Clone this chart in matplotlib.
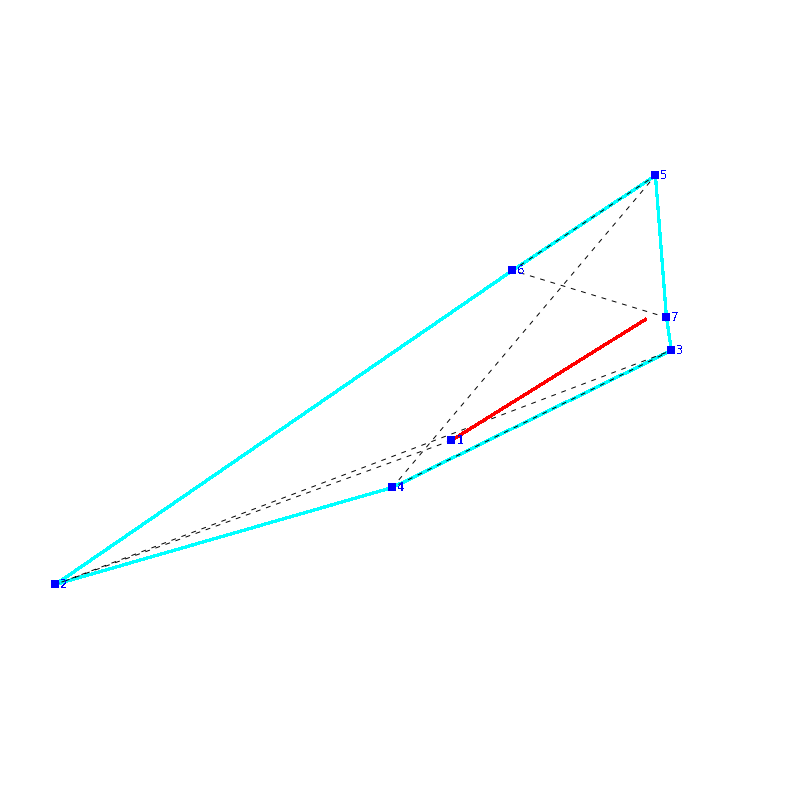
import matplotlib
matplotlib.use("Agg")
import matplotlib.pyplot as plt

# node positions
node_labels = ["1", "2", "3", "4", "5", "6", "7"]
node_x = [451, 55, 671, 392, 655, 512, 666]
node_y = [440, 584, 350, 487, 175, 270, 317]

# hull, dashed links and the red segment
hull_x = [55, 392, 671, 666, 655, 512, 55]
hull_y = [584, 487, 350, 317, 175, 270, 584]
dash_x = [451, 55, 671, 392, 655, 512, 666]
dash_y = [440, 584, 350, 487, 175, 270, 317]
red_x = [451, 645]
red_y = [440, 319]

plt.rcParams["text.antialiased"] = False

fig = plt.figure(figsize=(8, 8), dpi=100)
ax = fig.add_axes([0, 0, 1, 1])
ax.set_xlim(-0.45, 799.55)
ax.set_ylim(799.55, -0.45)
ax.axis("off")

ax.plot(hull_x, hull_y, color="#00ffff", lw=1.6, antialiased=False, zorder=1)
ax.plot(dash_x, dash_y, color="black", lw=0.7, ls=(0, (5, 6)), antialiased=True, zorder=2)
ax.plot(red_x[0:2], red_y[0:2], color="#ff0000", lw=1.6, antialiased=False, zorder=3)
ax.scatter(node_x, node_y, marker="s", s=27, color="#0000ff", linewidths=0, zorder=4)

# labels sit just right of each node
for label, x, y in zip(node_labels, node_x, node_y):
    ax.annotate(label, (x, y), xytext=(3.6, 0), textcoords="offset points",
                color="#0000ff", fontsize=8.5, family="DejaVu Sans", va="center", ha="left")

fig.savefig("out.png", dpi=100)
